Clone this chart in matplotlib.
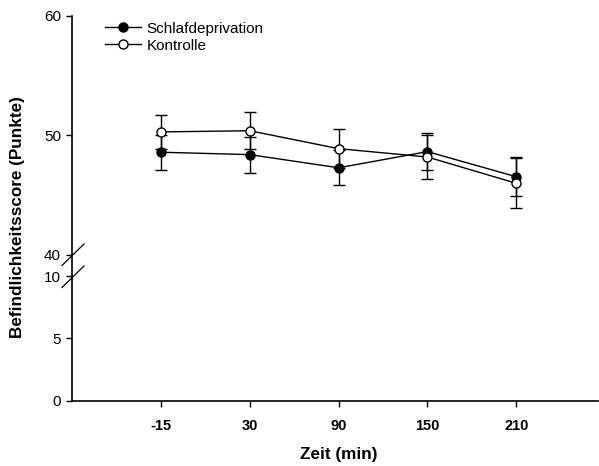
import matplotlib
matplotlib.use("Agg")
import matplotlib.pyplot as plt
from matplotlib.lines import Line2D

plt.rcParams.update({"font.family": ["Liberation Sans", "DejaVu Sans"]})

zeit = ["-15", "30", "90", "150", "210"]
schlaf = [48.6, 48.4, 47.3, 48.65, 46.55]
schlaf_se = [1.45, 1.5, 1.45, 1.55, 1.65]
kontrolle = [50.3, 50.4, 48.9, 48.2, 46.0]
kontrolle_se = [1.45, 1.55, 1.65, 1.85, 2.1]

W, H = 599, 466
fig = plt.figure(figsize=(W / 100, H / 100), dpi=100)

def fx(px):
    return px / W

def fy(py):
    return 1 - py / H

left, right = fx(72), fx(598)
ax_top = fig.add_axes([left, fy(255), right - left, fy(16) - fy(255)])
ax_bot = fig.add_axes([left, fy(400.5), right - left, fy(276) - fy(400.5)])

xpos = list(range(1, len(zeit) + 1))
for ax in (ax_top, ax_bot):
    ax.set_xlim(0, 5.92)
    for s in ("top", "right"):
        ax.spines[s].set_visible(False)
    ax.spines["left"].set_linewidth(1.2)
    ax.spines["bottom"].set_linewidth(1.2)
    ax.tick_params(axis="y", direction="out", length=4.5, width=1.0,
                   labelsize=11, pad=3.5)

ax_top.set_ylim(40, 60)
ax_top.set_yticks([40, 50, 60])
ax_top.spines["bottom"].set_visible(False)
ax_top.tick_params(axis="x", bottom=False, labelbottom=False)

ax_bot.set_ylim(0, 10)
ax_bot.set_yticks([0, 5, 10])
ax_bot.set_xticks(xpos)
ax_bot.set_xticklabels(zeit, fontweight="bold")
ax_bot.tick_params(axis="x", direction="out", length=4, width=1.0,
                   labelsize=10.5, pad=9)

common = dict(color="black", lw=1.0, elinewidth=1.0, capsize=4.2,
              capthick=1.0, markersize=6.5, markeredgewidth=1.0)
ax_top.errorbar(xpos, schlaf, yerr=schlaf_se, fmt="-o",
                markerfacecolor="black", markeredgecolor="black",
                label="Schlafdeprivation", zorder=3, **common)
ax_top.errorbar(xpos, kontrolle, yerr=kontrolle_se, fmt="-o",
                markerfacecolor="white", markeredgecolor="black",
                label="Kontrolle", zorder=4, **common)

handles = [Line2D([], [], color="black", lw=1.0, marker="o", markersize=6.5,
                  markerfacecolor=fc, markeredgecolor="black")
           for fc in ("black", "white")]
fig.legend(handles, ["Schlafdeprivation", "Kontrolle"], loc="upper left",
           bbox_to_anchor=(fx(105), fy(21.5)), frameon=False, fontsize=11,
           handlelength=2.33, handletextpad=0.4, labelspacing=0.2,
           borderaxespad=0, borderpad=0)

# axis break: spine bridge plus two slanted cut marks
fig.add_artist(Line2D([left, left], [fy(255), fy(276)], color="black",
                      lw=1.2, transform=fig.transFigure))
for y0 in (265.5, 287.5):
    fig.add_artist(Line2D([fx(62), fx(84)], [fy(y0), fy(y0 - 21.5)],
                          color="black", lw=0.9, transform=fig.transFigure))

fig.text(fx(18), fy(217), "Befindlichkeitsscore (Punkte)", rotation=90,
         ha="center", va="center", fontsize=12.3, fontweight="bold")
fig.text(fx(339), fy(455), "Zeit (min)", ha="center", va="center",
         fontsize=12.3, fontweight="bold")

fig.savefig("out.png", dpi=100)
